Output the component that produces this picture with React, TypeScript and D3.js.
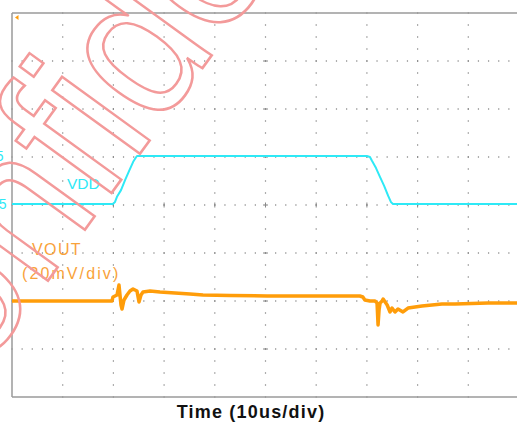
import React from "react";
import * as d3 from "d3";

// Time axis in microseconds (10 us/div, 10 divisions); amplitude in divisions (8 divisions)
const vddTime = [0, 19.9, 20.3, 20.7, 21.5, 22.3, 23.1, 23.9, 24.5, 24.65, 70.0, 70.6, 71.0, 71.8, 72.6, 73.4, 74.2, 74.75, 75.15, 100];
const vddLevel = [4.02, 4.02, 4.06, 4.17, 4.31, 4.52, 4.71, 4.9, 5.0, 5.02, 5.02, 5.0, 4.92, 4.77, 4.58, 4.4, 4.19, 4.06, 4.02, 4.02];

const voutTime = [0, 19.72, 19.92, 20.71, 21.1, 21.5, 21.7, 22.09, 22.68, 23.27, 23.87, 24.65, 25.05, 25.44, 25.84, 27.22, 29.19, 32.15, 35.11, 37.67, 43.0, 50.3, 56.8, 68.6, 69.2, 69.6, 70.6, 71.6, 72.0, 72.2, 72.4, 72.6, 73.0, 73.2, 74.0, 74.56, 74.95, 75.54, 76.13, 77.12, 78.11, 79.49, 80.87, 84.81, 87.38, 93.89, 100];
const voutLevel = [2.0, 2.0, 2.083, 2.125, 2.333, 1.917, 1.833, 2.021, 2.125, 2.208, 2.25, 2.208, 1.979, 2.125, 2.188, 2.208, 2.188, 2.167, 2.146, 2.125, 2.115, 2.104, 2.104, 2.104, 2.083, 2.021, 2.0, 2.0, 1.958, 1.5, 1.813, 1.958, 2.0, 2.042, 1.917, 1.771, 1.854, 1.771, 1.833, 1.771, 1.854, 1.875, 1.896, 1.938, 1.938, 1.958, 1.958];

const xDivs = d3.range(0, 11); // 0..10
const yDivs = d3.range(0, 9); // 0..8

const channelLabels = ["VDD", "VOUT", "(20mV/div)"];
const scaleLabels = ["5", "5"];
const axisTitle = "Time (10us/div)";
const watermark = "Confidential";

const W = 517;
const H = 427;

export default function App() {
  const x = d3.scaleLinear().domain([0, 100]).range([12, 519]);
  const y = d3.scaleLinear().domain([0, 8]).range([397, 13]);

  const vddPath = d3
    .line<number>()
    .x((d, i) => x(vddTime[i]))
    .y((d) => y(d))(vddLevel) as string;
  const voutPath = d3
    .line<number>()
    .x((d, i) => x(voutTime[i]))
    .y((d) => y(d))(voutLevel) as string;

  const dots: { cx: number; cy: number }[] = [];
  // dots along vertical grid lines (quarter divisions)
  xDivs.slice(1, 10).forEach((xd) => {
    d3.range(0, 8.001, 0.25).forEach((v) => dots.push({ cx: x(xd * 10), cy: y(v) }));
  });
  // dots along horizontal grid lines (fifth divisions)
  yDivs.slice(1, 8).forEach((yd) => {
    d3.range(0, 100.001, 2).forEach((t) => dots.push({ cx: x(t), cy: y(yd) }));
  });

  const font = "'Liberation Sans', Arial, sans-serif";
  const cyan = "#2ee9f6";
  const orange = "#ff9d0a";

  return (
    <div style={{ position: "fixed", left: 0, top: 0, width: W, height: H, background: "#fff" }}>
      <svg width={W} height={H} viewBox={`0 0 ${W} ${H}`} style={{ display: "block" }}>
        <rect x={0} y={0} width={W} height={H} fill="#fff" />
        {/* grid dots */}
        {dots.map((d, i) => (
          <rect key={i} x={d.cx - 0.6} y={d.cy - 0.6} width={1.2} height={1.2} fill="#7a7a7a" />
        ))}
        {/* center axis ticks */}
        {yDivs.slice(1, 8).map((yd) => (
          <line key={"ch" + yd} x1={x(50) - 2.5} x2={x(50) + 2.5} y1={y(yd)} y2={y(yd)} stroke="#888" strokeWidth={1} />
        ))}
        {xDivs.slice(1, 10).map((xd) => (
          <line key={"cv" + xd} x1={x(xd * 10)} x2={x(xd * 10)} y1={y(4) - 2.5} y2={y(4) + 2.5} stroke="#888" strokeWidth={1} />
        ))}
        {/* frame */}
        <line x1={x(0)} x2={x(0)} y1={y(8)} y2={y(0)} stroke="#9a9a9a" strokeWidth={1.5} />
        <line x1={x(0)} x2={x(100)} y1={y(8)} y2={y(8)} stroke="#9a9a9a" strokeWidth={1.5} />
        <line x1={x(0)} x2={x(100)} y1={y(0)} y2={y(0)} stroke="#9a9a9a" strokeWidth={1.5} />

        {/* traces */}
        <path d={vddPath} fill="none" stroke={cyan} strokeWidth={2} strokeLinejoin="round" />
        <path d={voutPath} fill="none" stroke={orange} strokeWidth={3.5} strokeLinejoin="round" />

        {/* trigger marker */}
        <polygon points={`${x(0) + 3},${y(8) + 4.5} ${x(0) + 6.5},${y(8) + 2} ${x(0) + 6.5},${y(8) + 7}`} fill={orange} />

        {/* labels */}
        <text x={3.5} y={y(5.02)} dy="0.35em" textAnchor="end" fontFamily={font} fontSize={14} fill={cyan}>{scaleLabels[0]}</text>
        <text x={6.5} y={y(4.02)} dy="0.35em" textAnchor="end" fontFamily={font} fontSize={14} fill={cyan}>{scaleLabels[1]}</text>
        <text x={67} y={189} fontFamily={font} fontSize={15.5} fill={cyan}>{channelLabels[0]}</text>
        <text x={32} y={255} fontFamily={font} fontSize={16} letterSpacing={1.4} fill="#f9a23a">{channelLabels[1]}</text>
        <text x={22} y={279} fontFamily={font} fontSize={16} letterSpacing={2.1} fill="#f9a23a">{channelLabels[2]}</text>
        <text x={251} y={418} textAnchor="middle" fontFamily={font} fontSize={18} fontWeight="bold" letterSpacing={1.2} fill="#111">{axisTitle}</text>

        {/* watermark */}
        <text
          transform="translate(145,147) rotate(-54) scale(0.92,1)"
          x={-456}
          y={0}
          fontFamily={font}
          fontSize={205}
          fill="none"
          stroke="#f39a9a"
          strokeWidth={2.6}
        >
          {watermark}
        </text>
      </svg>
    </div>
  );
}
